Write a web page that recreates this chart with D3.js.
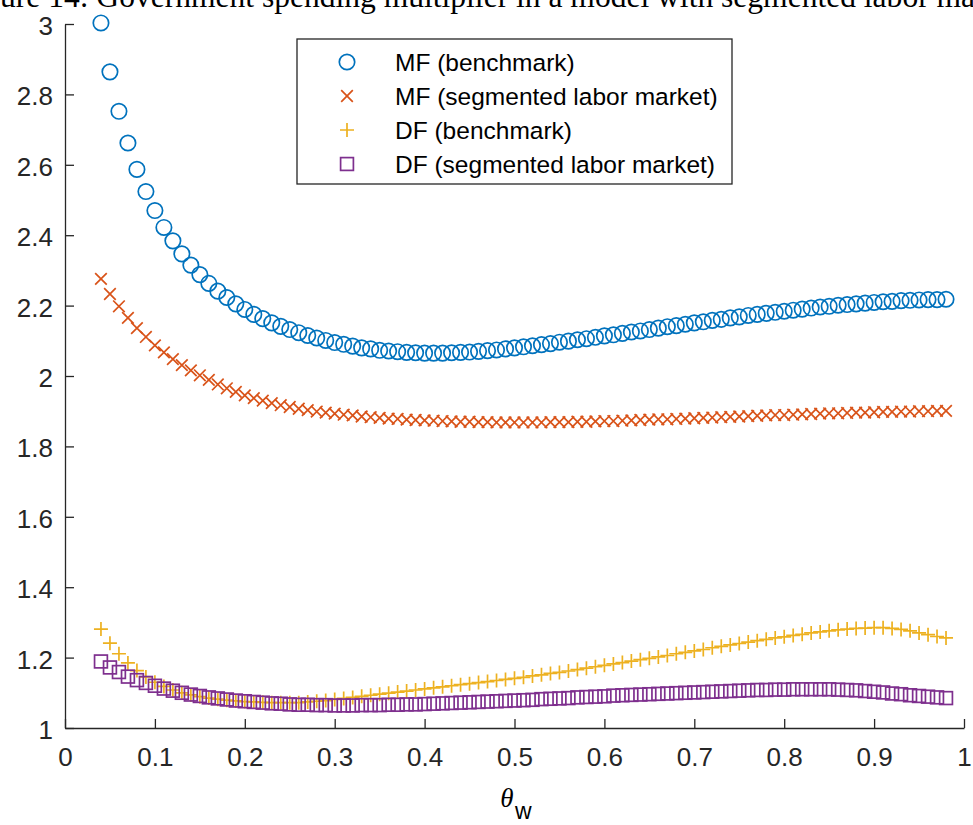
<!DOCTYPE html>
<html><head><meta charset="utf-8">
<script src="https://cdn.jsdelivr.net/npm/d3@7/dist/d3.min.js"></script>
<style>html,body{margin:0;padding:0;background:#fff;overflow:hidden}</style>
</head><body>
<svg id="chart" width="973" height="825"></svg>
<script>
// ---- data ----
const theta = d3.range(4, 99).map(i => i / 100); // 0.04 ... 0.98 (x positions of markers)
const mfBenchmark = [3.003,2.864,2.752,2.662,2.587,2.524,2.470,2.422,2.384,2.347,2.315,2.288,2.263,2.241,2.223,2.205,2.189,2.175,2.163,2.151,2.141,2.132,2.123,2.115,2.108,2.101,2.095,2.090,2.085,2.080,2.077,2.073,2.071,2.069,2.067,2.066,2.065,2.065,2.065,2.066,2.067,2.068,2.070,2.072,2.074,2.077,2.080,2.083,2.086,2.089,2.092,2.096,2.099,2.103,2.106,2.110,2.114,2.117,2.121,2.125,2.128,2.132,2.136,2.140,2.143,2.147,2.151,2.154,2.158,2.161,2.165,2.168,2.172,2.175,2.178,2.181,2.184,2.187,2.190,2.193,2.196,2.198,2.201,2.203,2.205,2.207,2.209,2.211,2.212,2.214,2.215,2.216,2.217,2.217,2.218];
const mfSegmented = [2.276,2.233,2.198,2.165,2.136,2.111,2.087,2.067,2.048,2.031,2.016,2.002,1.989,1.976,1.965,1.955,1.945,1.937,1.930,1.923,1.917,1.912,1.907,1.903,1.899,1.896,1.893,1.890,1.888,1.885,1.883,1.881,1.879,1.878,1.876,1.875,1.874,1.873,1.872,1.871,1.870,1.870,1.869,1.869,1.868,1.868,1.868,1.868,1.868,1.868,1.869,1.869,1.869,1.870,1.870,1.871,1.872,1.872,1.873,1.874,1.875,1.876,1.877,1.877,1.878,1.879,1.880,1.881,1.882,1.883,1.884,1.885,1.886,1.887,1.888,1.889,1.889,1.890,1.891,1.892,1.893,1.894,1.894,1.895,1.896,1.896,1.897,1.898,1.898,1.899,1.899,1.900,1.900,1.901,1.901];
const dfBenchmark = [1.281,1.241,1.211,1.185,1.163,1.145,1.130,1.118,1.108,1.100,1.094,1.089,1.085,1.082,1.079,1.077,1.075,1.074,1.073,1.072,1.072,1.072,1.072,1.074,1.076,1.078,1.081,1.084,1.087,1.090,1.093,1.096,1.099,1.102,1.105,1.108,1.111,1.114,1.117,1.120,1.123,1.126,1.129,1.132,1.135,1.138,1.141,1.144,1.148,1.151,1.155,1.158,1.162,1.166,1.170,1.174,1.178,1.182,1.186,1.190,1.194,1.198,1.202,1.206,1.211,1.215,1.219,1.223,1.228,1.232,1.236,1.240,1.244,1.248,1.252,1.256,1.259,1.263,1.266,1.270,1.273,1.276,1.279,1.281,1.283,1.284,1.285,1.285,1.283,1.280,1.276,1.270,1.265,1.260,1.256];
const dfSegmented = [1.189,1.172,1.159,1.146,1.136,1.128,1.120,1.112,1.106,1.100,1.095,1.091,1.087,1.084,1.081,1.078,1.076,1.074,1.072,1.070,1.069,1.067,1.066,1.066,1.065,1.065,1.064,1.064,1.064,1.065,1.065,1.065,1.066,1.066,1.067,1.067,1.068,1.069,1.070,1.071,1.072,1.073,1.074,1.075,1.076,1.077,1.078,1.079,1.080,1.082,1.083,1.084,1.085,1.087,1.088,1.089,1.090,1.092,1.093,1.094,1.095,1.096,1.097,1.098,1.099,1.100,1.101,1.102,1.103,1.104,1.105,1.106,1.107,1.108,1.108,1.109,1.109,1.110,1.110,1.110,1.110,1.110,1.109,1.108,1.107,1.105,1.103,1.101,1.098,1.096,1.093,1.091,1.089,1.087,1.085];
const seriesNames = ["MF (benchmark)", "MF (segmented labor market)", "DF (benchmark)", "DF (segmented labor market)"];
const seriesColors = ["#0072BD", "#D95319", "#EDB120", "#7E2F8E"];
const seriesMarkers = ["circle", "x", "plus", "square"];
const xTicks = [0,0.1,0.2,0.3,0.4,0.5,0.6,0.7,0.8,0.9,1];
const yTicks = [1,1.2,1.4,1.6,1.8,2,2.2,2.4,2.6,2.8,3];
const titleText = "Figure 14: Government spending multiplier in a model with segmented labor market";

// ---- layout ----
const svg = d3.select("#chart");
const axisColor = "#262626";
const x = d3.scaleLinear().domain([0, 1]).range([65, 964]);
const y = d3.scaleLinear().domain([1, 3]).range([728, 24]);

// title (cut off at top and sides as in the reference)
const title = svg.append("text").text(titleText)
  .attr("font-family", "'Liberation Serif','DejaVu Serif',serif")
  .attr("font-size", 30).attr("fill", "#000").attr("y", 7);
const probe = svg.append("text").attr("font-family", "'Liberation Serif','DejaVu Serif',serif").attr("font-size", 30);
probe.text("ure 14: Government spen");
const wSub = probe.node().getComputedTextLength();
const fs = 30 * 320 / wSub;
probe.attr("font-size", fs).text("Fig");
const wFig = probe.node().getComputedTextLength();
probe.remove();
title.attr("font-size", fs).attr("x", -wFig);

// axes
const gx = svg.append("g").attr("transform", "translate(0,728)")
  .call(d3.axisBottom(x).tickValues(xTicks).tickSizeInner(-9).tickSizeOuter(0).tickPadding(20).tickFormat(d3.format("")));
const gy = svg.append("g").attr("transform", "translate(65,0)")
  .call(d3.axisLeft(y).tickValues(yTicks).tickSizeInner(-9).tickSizeOuter(0).tickPadding(12).tickFormat(d3.format("")));
[gx, gy].forEach(g => {
  g.select(".domain").attr("stroke", axisColor).attr("stroke-width", 1.3);
  g.selectAll(".tick line").attr("stroke", axisColor).attr("stroke-width", 1.3);
  g.selectAll(".tick text").attr("fill", axisColor)
    .attr("font-family", "'Liberation Sans',Arial,Helvetica,sans-serif").attr("font-size", 26);
});
gx.selectAll(".tick text").attr("dy", "0.71em").attr("y", 20);
gy.selectAll(".tick text").attr("dy", "0.4em");

// x label θ_w
svg.append("text").attr("x", 507).attr("y", 807).attr("text-anchor", "middle")
  .attr("font-family", "'Liberation Serif','DejaVu Serif',serif").attr("font-style", "italic")
  .attr("font-size", 27).attr("fill", "#000").text("θ");
svg.append("text").attr("x", 515).attr("y", 819)
  .attr("font-family", "'Liberation Sans',Arial,sans-serif").attr("font-size", 23).attr("fill", "#000").text("w");

// marker drawing
function drawMarker(sel, type, color) {
  const sw = 1.7;
  if (type === "circle") {
    sel.append("circle").attr("r", 7.7).attr("fill", "none").attr("stroke", color).attr("stroke-width", sw);
  } else if (type === "x") {
    const s = 5.8;
    sel.append("path").attr("d", `M${-s},${-s}L${s},${s}M${-s},${s}L${s},${-s}`)
      .attr("stroke", color).attr("stroke-width", sw).attr("fill", "none");
  } else if (type === "plus") {
    const s = 7;
    sel.append("path").attr("d", `M${-s},0L${s},0M0,${-s}L0,${s}`)
      .attr("stroke", color).attr("stroke-width", sw).attr("fill", "none");
  } else if (type === "square") {
    const s = 6.4;
    sel.append("rect").attr("x", -s).attr("y", -s).attr("width", 2 * s).attr("height", 2 * s)
      .attr("stroke", color).attr("stroke-width", sw).attr("fill", "none");
  }
}

const allSeries = [mfBenchmark, mfSegmented, dfBenchmark, dfSegmented];
allSeries.forEach((vals, si) => {
  const g = svg.append("g");
  vals.forEach((v, i) => {
    const m = g.append("g").attr("transform", `translate(${x(theta[i])},${y(v)})`);
    drawMarker(m, seriesMarkers[si], seriesColors[si]);
  });
});

// legend
const lg = svg.append("g");
lg.append("rect").attr("x", 297).attr("y", 39).attr("width", 435).attr("height", 145)
  .attr("fill", "#fff").attr("stroke", axisColor).attr("stroke-width", 1.3);
seriesNames.forEach((name, i) => {
  const cy = 62 + i * 34;
  const m = lg.append("g").attr("transform", `translate(347,${cy})`);
  drawMarker(m, seriesMarkers[i], seriesColors[i]);
  lg.append("text").attr("x", 395).attr("y", cy).attr("dy", "0.36em")
    .attr("font-family", "'Liberation Sans',Arial,Helvetica,sans-serif").attr("font-size", 24.5)
    .attr("fill", "#000").text(name);
});
</script>
</body></html>
